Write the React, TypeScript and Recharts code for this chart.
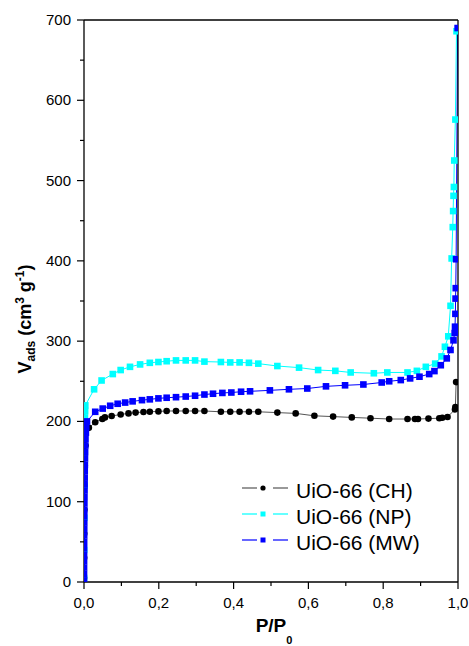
import { LineChart, Line, XAxis, YAxis, Legend } from 'recharts';

const FONT = 'Arial, "Liberation Sans", sans-serif';

// [P/P0, V_ads]
const chPoints: [number, number][] = [
  [0.0001, 5], [0.0003, 30], [0.0006, 60], [0.001, 90], [0.0015, 120], [0.002, 145],
  [0.004, 170], [0.013, 192], [0.03, 199], [0.049, 203], [0.056, 205], [0.074, 206.7],
  [0.098, 208.7], [0.119, 210], [0.138, 211], [0.159, 211.7], [0.176, 212], [0.199, 212.5],
  [0.221, 213], [0.246, 213], [0.272, 213], [0.297, 213], [0.322, 213], [0.366, 212],
  [0.391, 212], [0.416, 212], [0.441, 212], [0.466, 212], [0.517, 211], [0.566, 210],
  [0.616, 207], [0.666, 206], [0.716, 205], [0.766, 204], [0.816, 203], [0.865, 203],
  [0.885, 203], [0.893, 203], [0.921, 203.5], [0.95, 204], [0.958, 204.5], [0.972, 205.5],
  [0.992, 215], [0.993, 218], [0.995, 249],
];

const npPoints: [number, number][] = [
  [0.0001, 5], [0.0004, 40], [0.0008, 80], [0.0012, 120], [0.0016, 160], [0.002, 190],
  [0.0025, 205], [0.003, 213], [0.0035, 220], [0.027, 240], [0.047, 251], [0.077, 259],
  [0.098, 264], [0.123, 268], [0.15, 271], [0.176, 273], [0.199, 274], [0.221, 275],
  [0.246, 276], [0.272, 276], [0.297, 276], [0.322, 274.5], [0.366, 274], [0.391, 273.5],
  [0.416, 273.5], [0.441, 273], [0.466, 272], [0.517, 269], [0.575, 267], [0.626, 264],
  [0.672, 263], [0.713, 261], [0.775, 260], [0.811, 261], [0.865, 261], [0.89, 263],
  [0.914, 268], [0.939, 272], [0.956, 281], [0.965, 293], [0.974, 306], [0.98, 344],
  [0.983, 403], [0.986, 442], [0.987, 462], [0.988, 481], [0.989, 492], [0.99, 525],
  [0.993, 576], [0.996, 686],
];

const mwPoints: [number, number][] = [
  [0.00005, 2], [0.0001, 10], [0.00015, 18], [0.0002, 26], [0.00025, 34], [0.0003, 42],
  [0.0004, 50], [0.0005, 58], [0.0006, 66], [0.0007, 74], [0.0008, 82], [0.0009, 90],
  [0.001, 98], [0.0012, 106], [0.0014, 114], [0.0016, 122], [0.0018, 130], [0.002, 138],
  [0.0023, 146], [0.0026, 154], [0.003, 162], [0.0035, 170], [0.004, 178], [0.005, 186],
  [0.006, 193], [0.008, 200], [0.03, 212], [0.05, 216], [0.07, 219.5], [0.09, 222],
  [0.11, 223.5], [0.13, 225], [0.155, 226.5], [0.176, 227.5], [0.199, 228.7], [0.221, 229.5],
  [0.246, 230.2], [0.272, 231], [0.297, 232], [0.322, 233.5], [0.345, 234.5], [0.37, 235.5],
  [0.394, 236], [0.42, 237], [0.444, 237.5], [0.497, 238.7], [0.548, 240], [0.597, 241],
  [0.647, 243.7], [0.698, 245], [0.747, 246], [0.796, 248.5], [0.816, 250], [0.847, 251.5],
  [0.872, 253.6], [0.897, 255.7], [0.923, 259], [0.937, 262.7], [0.954, 270], [0.97, 278.5],
  [0.98, 289], [0.988, 301], [0.991, 310], [0.992, 318], [0.993, 334], [0.9935, 353],
  [0.994, 366], [0.995, 402], [0.999, 690],
];

const seriesNames = ['UiO-66 (CH)', 'UiO-66 (NP)', 'UiO-66 (MW)'];
const xTicks = [0, 0.1, 0.2, 0.3, 0.4, 0.5, 0.6, 0.7, 0.8, 0.9, 1];
const yTicks = [0, 50, 100, 150, 200, 250, 300, 350, 400, 450, 500, 550, 600, 650, 700];

const toRows = (pts: [number, number][]) => pts.map(([p, v]) => ({ p, v }));

const isMajorX = (v: number) => Math.round(v * 10) % 2 === 0;
const isMajorY = (v: number) => v % 100 === 0;

function BottomTick(props: any) {
  const { x, y, payload } = props;
  const major = isMajorX(payload.value);
  return (
    <g>
      <line x1={x} x2={x} y1={y} y2={y + (major ? 7 : 4)} stroke="#000" strokeWidth={1.2} />
      {major && (
        <text x={x} y={y + 26} textAnchor="middle" fontFamily={FONT} fontSize={15} fill="#000">
          {payload.value.toFixed(1).replace('.', ',')}
        </text>
      )}
    </g>
  );
}

function LeftTick(props: any) {
  const { x, y, payload } = props;
  const major = isMajorY(payload.value);
  return (
    <g>
      <line x1={x - (major ? 7 : 4)} x2={x} y1={y} y2={y} stroke="#000" strokeWidth={1.2} />
      {major && (
        <text x={x - 13} y={y + 5} textAnchor="end" fontFamily={FONT} fontSize={15} fill="#000">
          {payload.value}
        </text>
      )}
    </g>
  );
}

function TopTick(props: any) {
  const { x, y } = props;
  return <line x1={x} x2={x} y1={y} y2={y - 2} stroke="#000" strokeWidth={1} />;
}

function RightTick(props: any) {
  const { x, y } = props;
  return <line x1={x} x2={x + 2} y1={y} y2={y} stroke="#000" strokeWidth={1} />;
}

function squareDot(color: string) {
  return (props: any) => {
    const { cx, cy, index } = props;
    if (cx == null || cy == null) return <g key={index} />;
    return <rect key={index} x={cx - 3.3} y={cy - 3.3} width={6.6} height={6.6} fill={color} />;
  };
}

const legendItems = [
  { name: seriesNames[0], line: '#555', fill: '#000', shape: 'circle' },
  { name: seriesNames[1], line: '#00FFFF', fill: '#00FFFF', shape: 'square' },
  { name: seriesNames[2], line: '#0000FF', fill: '#0000FF', shape: 'square' },
];

function renderLegend() {
  return (
    <div style={{ fontFamily: FONT, fontSize: 21, color: '#000' }}>
      {legendItems.map((item) => (
        <div key={item.name} style={{ display: 'flex', alignItems: 'center', height: 26 }}>
          <svg width={50} height={26}>
            <line x1={2} x2={17} y1={13} y2={13} stroke={item.line} strokeWidth={1.2} />
            {item.shape === 'circle' ? (
              <circle cx={23} cy={13} r={2.6} fill={item.fill} />
            ) : (
              <rect x={20.5} y={10.5} width={5} height={5} fill={item.fill} />
            )}
            <line x1={33} x2={48} y1={13} y2={13} stroke={item.line} strokeWidth={1.2} />
          </svg>
          <span style={{ marginLeft: 6, lineHeight: '26px', position: 'relative', top: 3 }}>
            {item.name}
          </span>
        </div>
      ))}
    </div>
  );
}

export default function App() {
  return (
    <div style={{ position: 'absolute', left: 0, top: 0, background: '#fff' }}>
      <LineChart width={469} height={646} margin={{ top: 0, right: 0, bottom: 0, left: 0 }}>
        <XAxis
          xAxisId={0}
          dataKey="p"
          type="number"
          domain={[0, 1]}
          ticks={xTicks}
          interval={0}
          allowDataOverflow
          height={64}
          tickSize={0}
          tickMargin={0}
          tickLine={false}
          tick={BottomTick}
          axisLine={{ stroke: '#000', strokeWidth: 1.3 }}
          label={{
            content: () => (
              <text x={274} y={632} textAnchor="middle" fontFamily={FONT} fontWeight="bold" fontSize={19} fill="#000">
                P/P<tspan fontSize={11} dy={12}>0</tspan>
              </text>
            ),
          }}
        />
        <XAxis
          xAxisId="top"
          orientation="top"
          type="number"
          domain={[0, 1]}
          ticks={xTicks}
          interval={0}
          height={20}
          tickSize={0}
          tickMargin={0}
          tickLine={false}
          tick={TopTick}
          axisLine={{ stroke: '#000', strokeWidth: 1.3 }}
        />
        <YAxis
          yAxisId={0}
          type="number"
          domain={[0, 700]}
          ticks={yTicks}
          interval={0}
          allowDataOverflow
          width={84}
          tickSize={0}
          tickMargin={0}
          tickLine={false}
          tick={LeftTick}
          axisLine={{ stroke: '#000', strokeWidth: 1.3 }}
          label={{
            content: () => (
              <text transform="translate(31,319) rotate(-90)" textAnchor="middle" fontFamily={FONT} fontWeight="bold" fontSize={18} fill="#000">
                V<tspan fontSize={12} dy={4}>ads</tspan>
                <tspan dy={-4}> (cm</tspan>
                <tspan fontSize={12} dy={-7}>3</tspan>
                <tspan dy={7}> g</tspan>
                <tspan fontSize={12} dy={-7}>-1</tspan>
                <tspan dy={7}>)</tspan>
              </text>
            ),
          }}
        />
        <YAxis
          yAxisId="right"
          orientation="right"
          type="number"
          domain={[0, 700]}
          ticks={yTicks}
          interval={0}
          width={11}
          tickSize={0}
          tickMargin={0}
          tickLine={false}
          tick={RightTick}
          axisLine={{ stroke: '#000', strokeWidth: 1.3 }}
        />
        <Legend
          layout="vertical"
          align="center"
          verticalAlign="middle"
          content={renderLegend}
          wrapperStyle={{ left: 240, top: 475, width: 220, height: 80 }}
        />
        <Line
          data={toRows(chPoints)}
          dataKey="v"
          name={seriesNames[0]}
          type="linear"
          stroke="#555"
          strokeWidth={1}
          dot={{ r: 3.3, fill: '#000', stroke: 'none' }}
          isAnimationActive={false}
        />
        <Line
          data={toRows(npPoints)}
          dataKey="v"
          name={seriesNames[1]}
          type="linear"
          stroke="#00FFFF"
          strokeWidth={1}
          dot={squareDot('#00FFFF')}
          isAnimationActive={false}
        />
        <Line
          data={toRows(mwPoints)}
          dataKey="v"
          name={seriesNames[2]}
          type="linear"
          stroke="#0000FF"
          strokeWidth={1}
          dot={squareDot('#0000FF')}
          isAnimationActive={false}
        />
      </LineChart>
    </div>
  );
}
